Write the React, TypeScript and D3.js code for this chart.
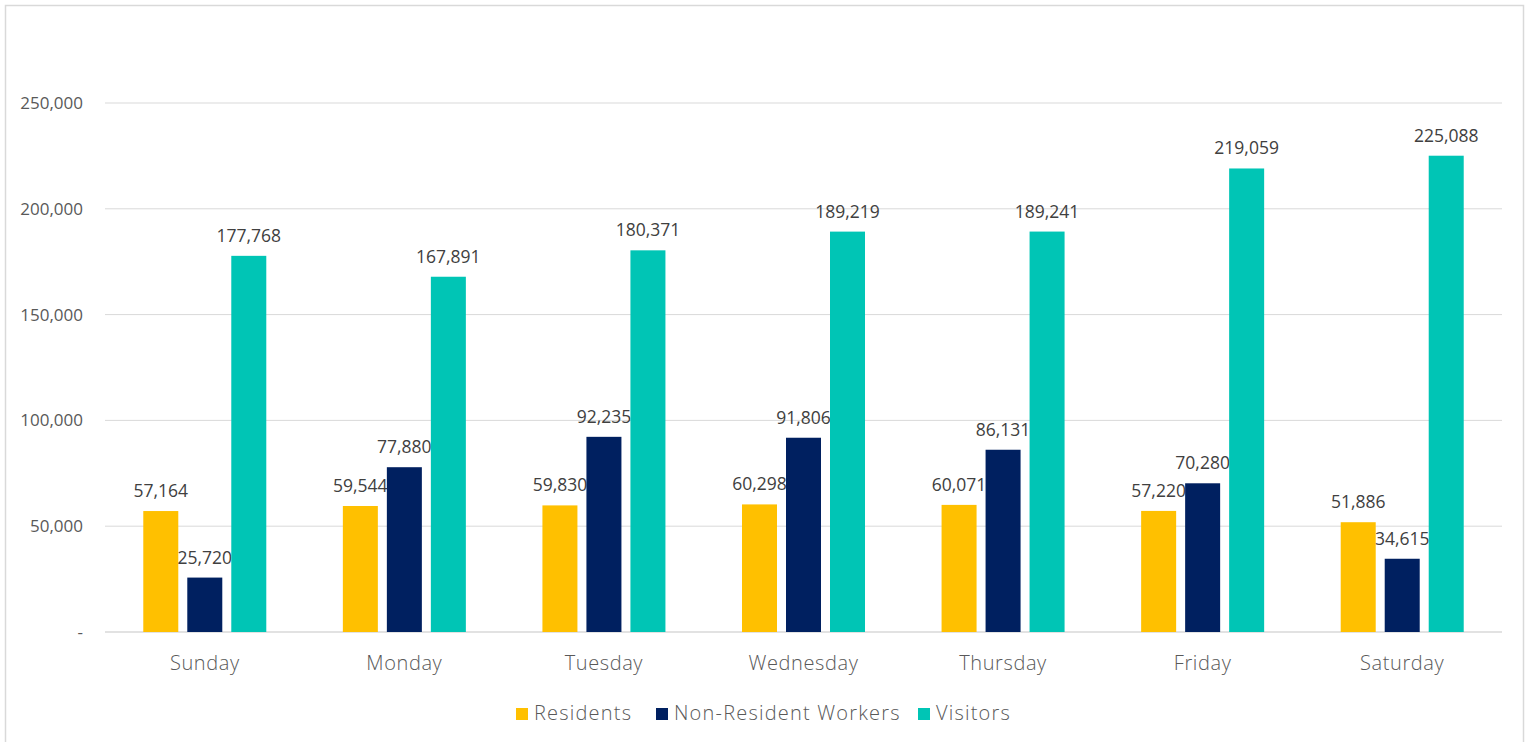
import React from 'react';
import * as d3 from 'd3';

const days = ['Sunday', 'Monday', 'Tuesday', 'Wednesday', 'Thursday', 'Friday', 'Saturday'];
const seriesNames = ['Residents', 'Non-Resident Workers', 'Visitors'];
const residents = [57164, 59544, 59830, 60298, 60071, 57220, 51886];
const workers = [25720, 77880, 92235, 91806, 86131, 70280, 34615];
const visitors = [177768, 167891, 180371, 189219, 189241, 219059, 225088];
const yTicks = [0, 50000, 100000, 150000, 200000, 250000];
const colors = ['#FFC000', '#002060', '#00C5B5'];

const W = 1533;
const H = 742;
const FONT = '"Open Sans", "Noto Sans", sans-serif';

const App: React.FC = () => {
  const series = [residents, workers, visitors];
  const x = d3.scaleBand().domain(days).range([105, 1502]);
  const inner = d3.scaleBand().domain(seriesNames).range([0, x.bandwidth()]).paddingInner(0.2045).paddingOuter(0.87);
  const y = d3.scaleLinear().domain([0, 250000]).range([632, 103]);
  const fmt = d3.format(',');

  const legendItems = [
    { name: seriesNames[0], x: 516 },
    { name: seriesNames[1], x: 656 },
    { name: seriesNames[2], x: 918 }
  ];

  return <svg width={W} height={H} style={{ position: 'absolute', left: 0, top: 0, background: '#fff' }} fontFamily={FONT}>
      <rect x={5.5} y={5.5} width={1518} height={H + 10} fill="#fff" stroke="#d9d9d9" strokeWidth={1.5} />
      {yTicks.map(t => <g key={t}>
          <line x1={105} x2={1502} y1={y(t)} y2={y(t)} stroke="#d9d9d9" strokeWidth={t === 0 ? 1.5 : 1} />
          <text x={83} y={y(t) + 6} textAnchor="end" fontSize={17} fill="#595959">{t === 0 ? '-' : fmt(t)}</text>
        </g>)}
      {days.map((d, i) => <g key={d}>
          {series.map((s, j) => {
        const bx = (x(d) || 0) + (inner(seriesNames[j]) || 0);
        return <g key={j}>
                <rect x={bx} y={y(s[i])} width={inner.bandwidth()} height={y(0) - y(s[i])} fill={colors[j]} />
                <text x={bx + inner.bandwidth() / 2} y={y(s[i]) - 14} textAnchor="middle" fontSize={17.5} fill="#404040">{fmt(s[i])}</text>
              </g>;
      })}
          <text x={(x(d) || 0) + x.bandwidth() / 2} y={670} textAnchor="middle" fontSize={20} fill="#595959" fontWeight={300} letterSpacing={0.6}>{d}</text>
        </g>)}
      {legendItems.map((l, i) => <g key={l.name}>
          <rect x={l.x} y={708} width={12} height={12} fill={colors[i]} />
          <text x={l.x + 18} y={720} fontSize={20} fill="#595959" fontWeight={300} letterSpacing={1.2}>{l.name}</text>
        </g>)}
    </svg>;
};

export default App;
